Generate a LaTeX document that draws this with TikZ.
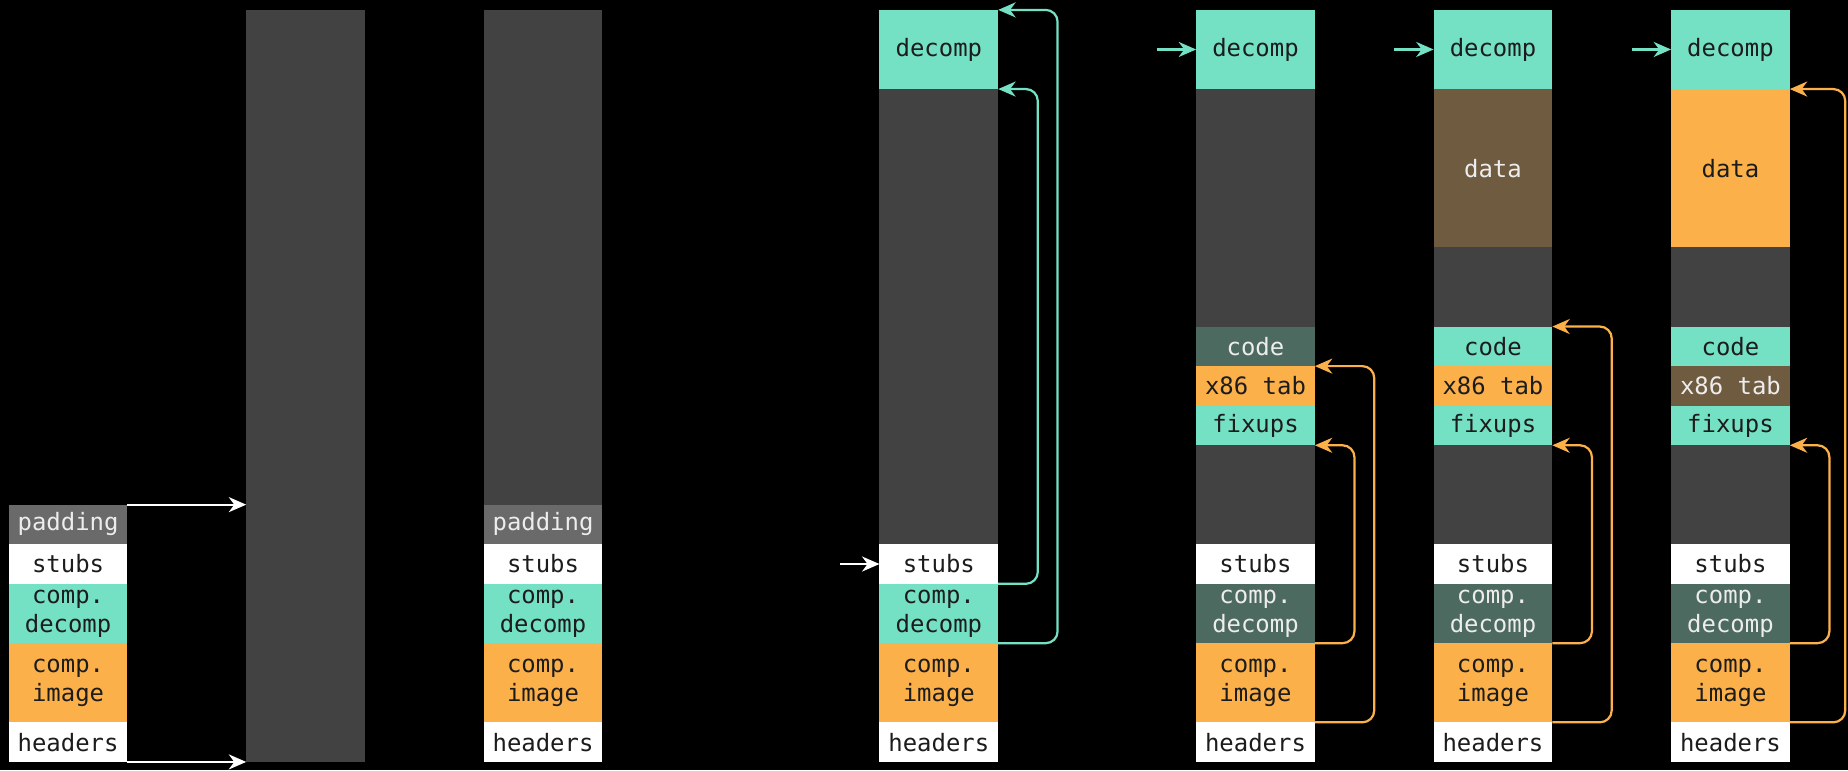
\documentclass[tikz,border=0pt]{standalone}
\usepackage{fontspec}
\newfontfamily\blkfont{DejaVu Sans Mono}
\usetikzlibrary{arrows.meta}

\definecolor{colgray}{HTML}{424242}
\definecolor{padgray}{HTML}{6A6A6A}
\definecolor{mint}{HTML}{74E0C4}
\definecolor{amber}{HTML}{FBB04A}
\definecolor{deepteal}{HTML}{4D6A61}
\definecolor{umber}{HTML}{6E5B40}
\definecolor{ink}{HTML}{1C1C1C}
\definecolor{lighttext}{HTML}{EDEDED}

\tikzset{
  blk/.style={anchor=south west, minimum width=1.5cm, inner sep=0pt, outer sep=0pt,
    font=\blkfont\fontsize{8.6}{10.4}\selectfont, align=center, text=ink},
  wblk/.style={blk, fill=white},
  mblk/.style={blk, fill=mint},
  ablk/.style={blk, fill=amber},
  dblk/.style={blk, fill=deepteal, text=lighttext},
  ublk/.style={blk, fill=umber, text=lighttext},
  pblk/.style={blk, fill=padgray, text=lighttext},
  gblk/.style={blk, fill=colgray},
  u1/.style={minimum height=0.5cm},
  u15/.style={minimum height=0.75cm},
  u2/.style={minimum height=1cm},
  wire/.style={line width=0.8pt, rounded corners=0.15cm,
    -{Stealth[length=0.22cm,width=0.19cm,inset=0.07cm]}},
  wirew/.style={wire, draw=white},
  wirem/.style={wire, draw=mint},
  wirea/.style={wire, draw=amber},
}

\begin{document}
\begin{tikzpicture}[x=0.5cm,y=0.5cm]
\fill[black] (0,-0.204) rectangle (46.69,19.25);
\useasboundingbox (0,-0.204) rectangle (46.69,19.25);

% column 1: packed file
\node[wblk,u1]  (a1) at (0.22,0)   {headers};
\node[ablk,u2]  (a2) at (0.22,1)   {comp.\\image};
\node[mblk,u15] (a3) at (0.22,3)   {comp.\\decomp};
\node[wblk,u1]  (a4) at (0.22,4.5) {stubs};
\node[pblk,u1]  (a5) at (0.22,5.5) {padding};

% column 2: empty region
\node[gblk,minimum height=9.5cm] (b0) at (6.22,0) {};

% column 3: file loaded into region
\node[wblk,u1]  (c1) at (12.22,0)   {headers};
\node[ablk,u2]  (c2) at (12.22,1)   {comp.\\image};
\node[mblk,u15] (c3) at (12.22,3)   {comp.\\decomp};
\node[wblk,u1]  (c4) at (12.22,4.5) {stubs};
\node[pblk,u1]  (c5) at (12.22,5.5) {padding};
\node[gblk,minimum height=6.25cm] (c6) at (12.22,6.5) {};

% column 4: stubs copy decompressor
\node[wblk,u1]  (d1) at (22.22,0)   {headers};
\node[ablk,u2]  (d2) at (22.22,1)   {comp.\\image};
\node[mblk,u15] (d3) at (22.22,3)   {comp.\\decomp};
\node[wblk,u1]  (d4) at (22.22,4.5) {stubs};
\node[gblk,minimum height=5.75cm] (d5) at (22.22,5.5) {};
\node[mblk,u2]  (d6) at (22.22,17)  {decomp};

% column 5: decompress code sections
\node[wblk,u1]  (e1) at (30.22,0)   {headers};
\node[ablk,u2]  (e2) at (30.22,1)   {comp.\\image};
\node[dblk,u15] (e3) at (30.22,3)   {comp.\\decomp};
\node[wblk,u1]  (e4) at (30.22,4.5) {stubs};
\node[gblk,minimum height=1.25cm] (e5) at (30.22,5.5) {};
\node[mblk,u1]  (e6) at (30.22,8)   {fixups};
\node[ablk,u1]  (e7) at (30.22,9)   {x86 tab};
\node[dblk,u1]  (e8) at (30.22,10)  {code};
\node[gblk,minimum height=3cm] (e9) at (30.22,11) {};
\node[mblk,u2]  (e10) at (30.22,17) {decomp};

% column 6: code fixed up
\node[wblk,u1]  (f1) at (36.22,0)   {headers};
\node[ablk,u2]  (f2) at (36.22,1)   {comp.\\image};
\node[dblk,u15] (f3) at (36.22,3)   {comp.\\decomp};
\node[wblk,u1]  (f4) at (36.22,4.5) {stubs};
\node[gblk,minimum height=1.25cm] (f5) at (36.22,5.5) {};
\node[mblk,u1]  (f6) at (36.22,8)   {fixups};
\node[ablk,u1]  (f7) at (36.22,9)   {x86 tab};
\node[mblk,u1]  (f8) at (36.22,10)  {code};
\node[gblk,u2]  (f9) at (36.22,11)  {};
\node[ublk,minimum height=2cm] (f10) at (36.22,13) {data};
\node[mblk,u2]  (f11) at (36.22,17) {decomp};

% column 7: data decompressed
\node[wblk,u1]  (g1) at (42.22,0)   {headers};
\node[ablk,u2]  (g2) at (42.22,1)   {comp.\\image};
\node[dblk,u15] (g3) at (42.22,3)   {comp.\\decomp};
\node[wblk,u1]  (g4) at (42.22,4.5) {stubs};
\node[gblk,minimum height=1.25cm] (g5) at (42.22,5.5) {};
\node[mblk,u1]  (g6) at (42.22,8)   {fixups};
\node[ublk,u1]  (g7) at (42.22,9)   {x86 tab};
\node[mblk,u1]  (g8) at (42.22,10)  {code};
\node[gblk,u2]  (g9) at (42.22,11)  {};
\node[ablk,minimum height=2cm] (g10) at (42.22,13) {data};
\node[mblk,u2]  (g11) at (42.22,17) {decomp};

% entry points
\coordinate (d4in) at ([xshift=-0.5cm]d4.west);
\coordinate (e10in) at ([xshift=-0.5cm]e10.west);
\coordinate (f11in) at ([xshift=-0.5cm]f11.west);
\coordinate (g11in) at ([xshift=-0.5cm]g11.west);

% placement of the file in the region
\draw[wirew] (a5.north east) -- (b0.west |- a5.north east);
\draw[wirew] (a1.south east) -- (b0.south west);

% column 4 copies
\draw[wirew] (d4in) -- (d4.west);
\draw[wirem] (d4.south east) -| ([xshift=0.5cm]d6.south east) -- (d6.south east);
\draw[wirem] (d3.south east) -| ([xshift=0.75cm]d6.north east) -- (d6.north east);

% column 5
\draw[wirem] (e10in) -- (e10.west);
\draw[wirea] (e3.south east) -| ([xshift=0.5cm]e6.south east) -- (e6.south east);
\draw[wirea] (e2.south east) -| ([xshift=0.75cm]e7.north east) -- (e7.north east);

% column 6
\draw[wirem] (f11in) -- (f11.west);
\draw[wirea] (f3.south east) -| ([xshift=0.5cm]f6.south east) -- (f6.south east);
\draw[wirea] (f2.south east) -| ([xshift=0.75cm]f8.north east) -- (f8.north east);

% column 7
\draw[wirem] (g11in) -- (g11.west);
\draw[wirea] (g3.south east) -| ([xshift=0.5cm]g6.south east) -- (g6.south east);
\draw[wirea] (g2.south east) -| ([xshift=0.7cm]g10.north east) -- (g10.north east);
\end{tikzpicture}
\end{document}
